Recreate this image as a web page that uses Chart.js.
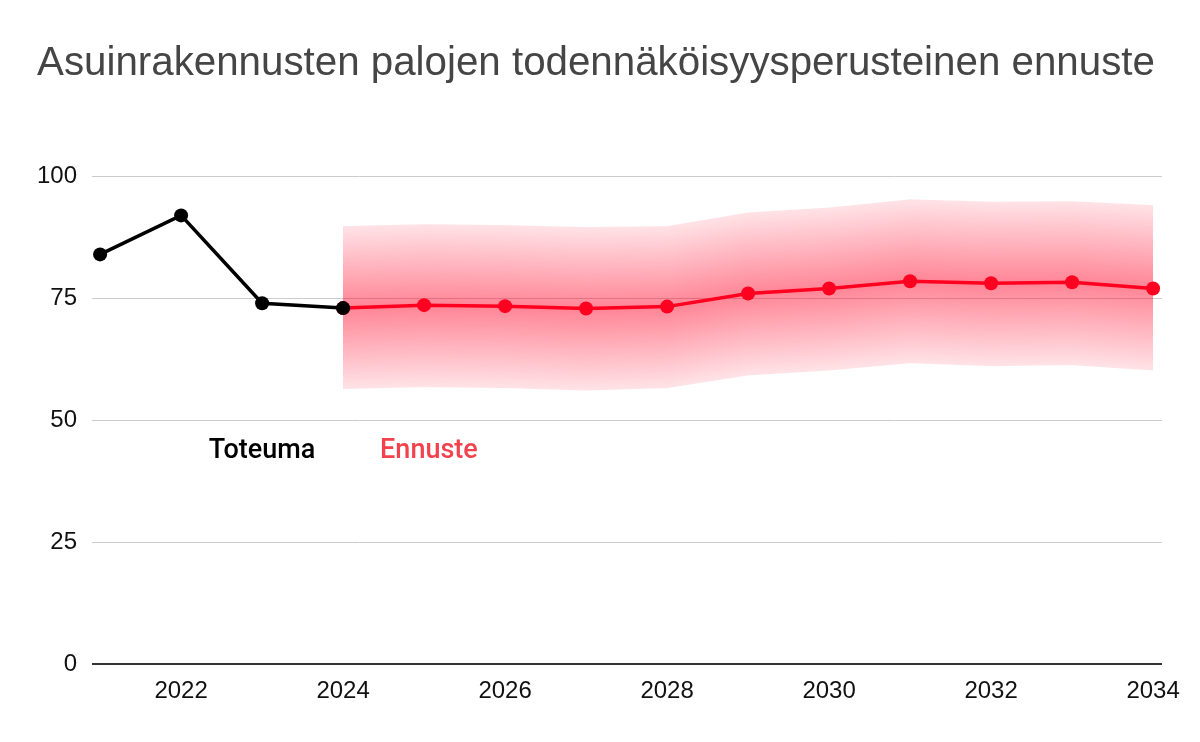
<!DOCTYPE html>
<html>
<head>
<meta charset="utf-8">
<script src="https://cdn.jsdelivr.net/npm/chart.js@4"></script>
<style>
  body { margin: 0; background: #fff; }
</style>
</head>
<body>
<canvas id="fireChart" width="1200" height="742"></canvas>
<script>
// Toteuma (toteutunut)
const actualYears = [2021, 2022, 2023, 2024];
const actualValues = [84, 92, 74, 73];

// Ennuste + todennäköisyysväli
const forecastYears = [2024, 2025, 2026, 2027, 2028, 2029, 2030, 2031, 2032, 2033, 2034];
const forecastValues = [73, 73.6, 73.4, 72.9, 73.3, 76, 77, 78.5, 78.1, 78.3, 77];
const bandUpper = [89.8, 90.2, 90, 89.6, 89.8, 92.6, 93.6, 95.3, 94.8, 94.9, 94.1];
const bandLower = [56.4, 56.8, 56.6, 56.1, 56.6, 59.2, 60.2, 61.7, 61.1, 61.3, 60.2];

const xTicks = [2022, 2024, 2026, 2028, 2030, 2032, 2034];
const yTicks = [0, 25, 50, 75, 100];

const toXY = (xs, ys) => xs.map((x, i) => ({ x: x, y: ys[i] }));

// väliarvio piirretään liukuvärinä ylä- ja alarajan väliin (pikselisarake kerrallaan)
const bandPlugin = {
  id: "gradientBand",
  beforeDatasetsDraw(chart) {
    const up = chart.getDatasetMeta(2).data;
    const lo = chart.getDatasetMeta(3).data;
    const c = chart.ctx;
    c.save();
    for (let i = 0; i < up.length - 1; i++) {
      const x0 = up[i].x, x1 = up[i + 1].x;
      const start = Math.round(x0), end = Math.round(x1);
      for (let px = start; px < end; px++) {
        const t = Math.min(1, Math.max(0, (px + 0.5 - x0) / (x1 - x0)));
        const top = up[i].y + t * (up[i + 1].y - up[i].y);
        const bottom = lo[i].y + t * (lo[i + 1].y - lo[i].y);
        const g = c.createLinearGradient(0, top, 0, bottom);
        g.addColorStop(0, "rgba(255,0,35,0.11)");
        g.addColorStop(0.5, "rgba(255,0,35,0.48)");
        g.addColorStop(1, "rgba(255,0,35,0.11)");
        c.fillStyle = g;
        c.fillRect(px, top, 1, bottom - top);
      }
    }
    c.restore();
  }
};

// tekstit "Toteuma" ja "Ennuste" kaavion sisällä
const labelPlugin = {
  id: "seriesLabels",
  afterDatasetsDraw(chart) {
    const c = chart.ctx;
    const xs = chart.scales.x, ys = chart.scales.y;
    c.save();
    c.textAlign = "center";
    c.textBaseline = "middle";
    c.font = "500 27px Roboto";
    c.fillStyle = "#000";
    c.fillText("Toteuma", xs.getPixelForValue(2023), ys.getPixelForValue(43.6));
    c.fillStyle = "#f2424e";
    c.fillText("Ennuste", xs.getPixelForValue(2025.06), ys.getPixelForValue(43.6));
    c.restore();
  }
};

const chart = new Chart(document.getElementById("fireChart").getContext("2d"), {
  type: "line",
  data: {
    datasets: [
      {
        label: "Toteuma",
        data: toXY(actualYears, actualValues),
        borderColor: "#000",
        backgroundColor: "#000",
        borderWidth: 3.5,
        pointRadius: 7,
        pointBackgroundColor: "#000",
        pointBorderWidth: 0,
        tension: 0,
        fill: false
      },
      {
        label: "Ennuste",
        data: toXY(forecastYears, forecastValues),
        borderColor: "#ff0020",
        backgroundColor: "#ff0020",
        borderWidth: 3.5,
        pointRadius: 7,
        pointBackgroundColor: "#ff0020",
        pointBorderWidth: 0,
        tension: 0,
        fill: false
      },
      {
        label: "Yläraja",
        data: toXY(forecastYears, bandUpper),
        borderWidth: 0,
        borderColor: "rgba(0,0,0,0)",
        pointRadius: 0,
        fill: false,
        tension: 0
      },
      {
        label: "Alaraja",
        data: toXY(forecastYears, bandLower),
        borderWidth: 0,
        borderColor: "rgba(0,0,0,0)",
        pointRadius: 0,
        fill: false,
        tension: 0
      }
    ]
  },
  options: {
    responsive: false,
    animation: false,
    layout: { padding: { left: 37, right: 38, top: 0, bottom: 23 } },
    plugins: {
      legend: { display: false },
      tooltip: { enabled: false },
      title: {
        display: true,
        text: "Asuinrakennusten palojen todennäköisyysperusteinen ennuste",
        align: "start",
        color: "#454545",
        font: { family: "Liberation Sans", size: 40.3, weight: "normal" },
        padding: { top: 40, bottom: 88 }
      }
    },
    scales: {
      x: {
        type: "linear",
        min: 2020.9,
        max: 2034.11,
        afterBuildTicks: (scale) => { scale.ticks = xTicks.map(v => ({ value: v })); },
        grid: { display: false, drawTicks: false },
        border: { display: false },
        ticks: {
          color: "#111",
          font: { family: "Liberation Sans", size: 24 },
          padding: 13,
          maxRotation: 0,
          callback: (v) => String(v)
        }
      },
      y: {
        min: 0,
        max: 100,
        afterBuildTicks: (scale) => { scale.ticks = yTicks.map(v => ({ value: v })); },
        afterFit: (scale) => { scale.width = 55; },
        grid: {
          drawTicks: false,
          color: (ctx) => ctx.tick && ctx.tick.value === 0 ? "#333" : "#ccc",
          lineWidth: (ctx) => ctx.tick && ctx.tick.value === 0 ? 2 : 1
        },
        border: { display: false },
        ticks: {
          color: "#111",
          font: { family: "Liberation Sans", size: 24 },
          padding: 15
        }
      }
    }
  },
  plugins: [bandPlugin, labelPlugin]
});
</script>
</body>
</html>
